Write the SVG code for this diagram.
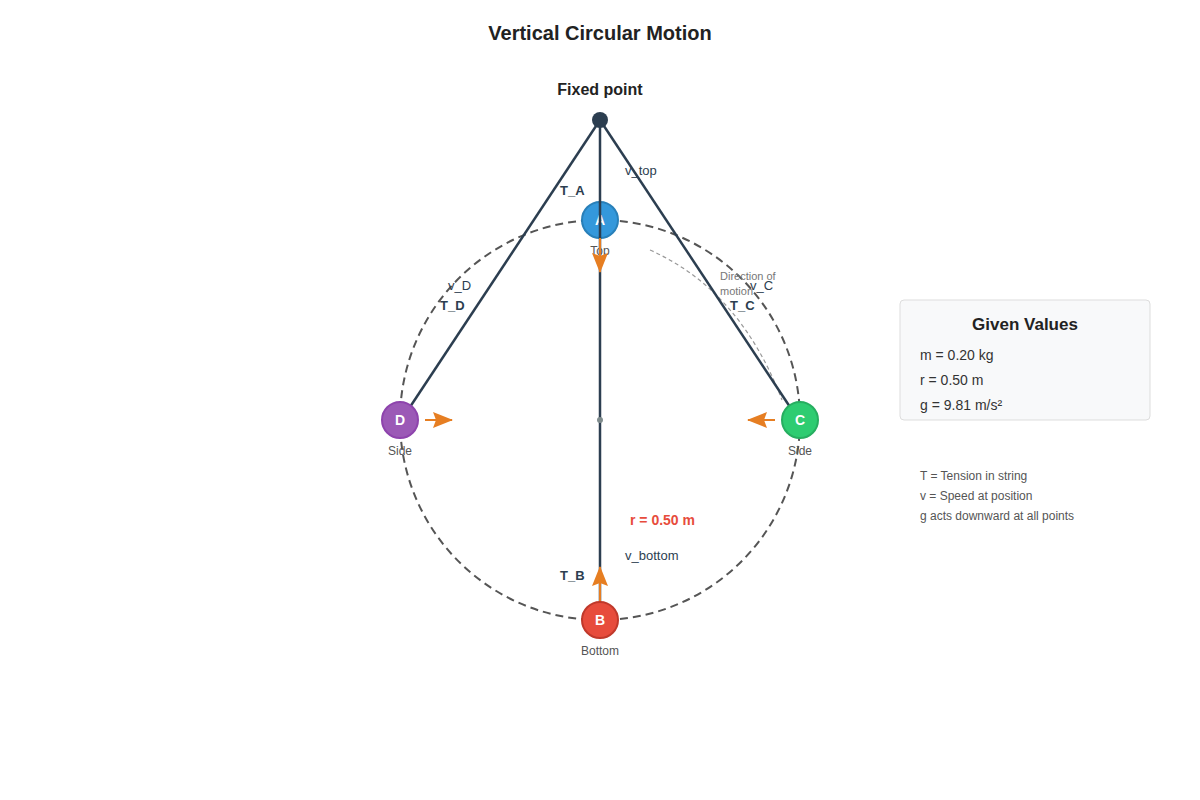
<svg xmlns="http://www.w3.org/2000/svg" width="1200" height="800" viewBox="0 0 1200 800">
<defs>
<marker id="ah" markerWidth="20" markerHeight="16" refX="19" refY="8" orient="auto" markerUnits="userSpaceOnUse" viewBox="0 0 20 16"><path d="M0,0 L20,8 L0,16 L3,8 z" fill="#e67e22"/></marker>
<style>
text{font-family:"Liberation Sans",Arial,sans-serif}
.str{stroke:#2c3e50;stroke-width:2.5;fill:none}
.f{stroke:#e67e22;stroke-width:2;marker-end:url(#ah)}
.lb{font-size:13px;fill:#2c3e50}
.b{font-weight:bold}
.sm{font-size:12px;fill:#555}
.nl{font-size:14px;font-weight:bold;fill:#fff}
</style>
</defs>
<rect width="1200" height="800" fill="#fff"/>
<text x="600" y="40" text-anchor="middle" font-size="20" font-weight="bold" fill="#222">Vertical Circular Motion</text>
<text x="600" y="95" text-anchor="middle" font-size="16" font-weight="bold" fill="#222">Fixed point</text>
<circle cx="600" cy="420" r="200" fill="none" stroke="#555" stroke-width="2" stroke-dasharray="8,5"/>
<path d="M650,250 Q740,290 782,400" fill="none" stroke="#999" stroke-width="1.2" stroke-dasharray="4,3"/>
<g id="A"><circle cx="600" cy="220" r="18" fill="#3498db" stroke="#2980b9" stroke-width="2"/><text x="600" y="225" text-anchor="middle" class="nl">A</text><text x="600" y="255" text-anchor="middle" class="sm">Top</text></g>
<g id="connectors">
<line class="str" x1="600" y1="120" x2="600" y2="620"/>
<line class="str" x1="600" y1="120" x2="410" y2="407"/>
<line class="str" x1="600" y1="120" x2="790" y2="407"/>
<line class="f" x1="600" y1="238" x2="600" y2="272"/>
<line class="f" x1="600" y1="602" x2="600" y2="567"/>
<line class="f" x1="425" y1="420" x2="452" y2="420"/>
<line class="f" x1="775" y1="420" x2="748" y2="420"/>
</g>
<circle cx="600" cy="120" r="8" fill="#2c3e50"/>
<circle cx="600" cy="420" r="3" fill="#7f8c8d"/>
<text x="560" y="195" class="lb b">T_A</text>
<text x="625" y="175" class="lb">v_top</text>
<text x="560" y="580" class="lb b">T_B</text>
<text x="625" y="560" class="lb">v_bottom</text>
<text x="448" y="290" class="lb">v_D</text>
<text x="440" y="310" class="lb b">T_D</text>
<text x="750" y="290" class="lb">v_C</text>
<text x="730" y="310" class="lb b">T_C</text>
<text x="720" y="280" font-size="11" fill="#777">Direction of</text>
<text x="720" y="295" font-size="11" fill="#777">motion</text>
<text x="630" y="525" font-size="14" font-weight="bold" fill="#e74c3c">r = 0.50 m</text>
<g id="B"><circle cx="600" cy="620" r="18" fill="#e74c3c" stroke="#c0392b" stroke-width="2"/><text x="600" y="625" text-anchor="middle" class="nl">B</text><text x="600" y="655" text-anchor="middle" class="sm">Bottom</text></g>
<g id="C"><circle cx="800" cy="420" r="18" fill="#2ecc71" stroke="#27ae60" stroke-width="2"/><text x="800" y="425" text-anchor="middle" class="nl">C</text><text x="800" y="455" text-anchor="middle" class="sm">Side</text></g>
<g id="D"><circle cx="400" cy="420" r="18" fill="#9b59b6" stroke="#8e44ad" stroke-width="2"/><text x="400" y="425" text-anchor="middle" class="nl">D</text><text x="400" y="455" text-anchor="middle" class="sm">Side</text></g>
<g id="given">
<rect x="900" y="300" width="250" height="120" rx="4" fill="#f8f9fa" stroke="#ddd"/>
<text x="1025" y="330" text-anchor="middle" font-size="17" font-weight="bold" fill="#222">Given Values</text>
<text x="920" y="360" font-size="14" fill="#333">m = 0.20 kg</text>
<text x="920" y="385" font-size="14" fill="#333">r = 0.50 m</text>
<text x="920" y="410" font-size="14" fill="#333">g = 9.81 m/s²</text>
</g>
<text x="920" y="480" font-size="12" fill="#555">T = Tension in string</text>
<text x="920" y="500" font-size="12" fill="#555">v = Speed at position</text>
<text x="920" y="520" font-size="12" fill="#555">g acts downward at all points</text>
</svg>
